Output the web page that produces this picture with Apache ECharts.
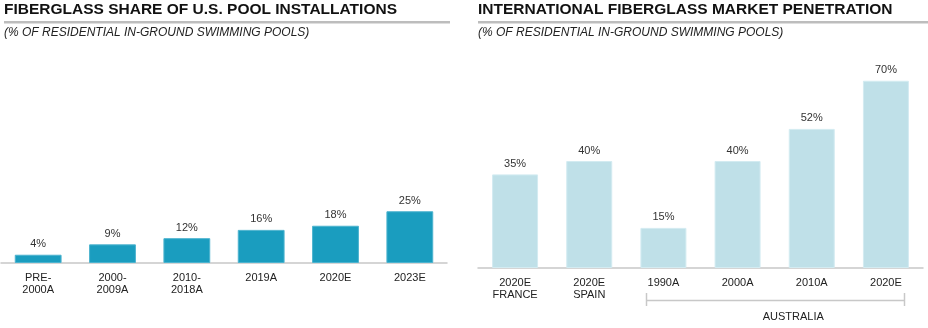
<!DOCTYPE html>
<html>
<head>
<meta charset="utf-8">
<script src="https://cdn.jsdelivr.net/npm/echarts@6/dist/echarts.min.js"></script>
<style>
  html, body { margin: 0; padding: 0; background: #fff; }
  #chart { width: 928px; height: 328px; }
</style>
</head>
<body>
<div id="chart"></div>
<script>
// U.S. fiberglass share by period
const usCategories = ['PRE-\n2000A', '2000-\n2009A', '2010-\n2018A', '2019A', '2020E', '2023E'];
const usShare = [4, 9, 12, 16, 18, 25];

// International fiberglass penetration
const intlCategories = ['2020E\nFRANCE', '2020E\nSPAIN', '1990A', '2000A', '2010A', '2020E'];
const intlShare = [35, 40, 15, 40, 52, 70];

// Australian bracket spans these categories
const bracketFrom = '1990A';
const bracketTo = '2020E';
const bracketLabel = 'AUSTRALIA';

const leftTitle = 'FIBERGLASS SHARE OF U.S. POOL INSTALLATIONS';
const rightTitle = 'INTERNATIONAL FIBERGLASS MARKET PENETRATION';
const subTitle = '(% OF RESIDENTIAL IN-GROUND SWIMMING POOLS)';

const FONT = '"Liberation Sans", Arial, Helvetica, sans-serif';

const chart = echarts.init(document.getElementById('chart'), null, { renderer: 'canvas' });

function header(x, rightEdge, text, titleSize, idp) {
  return [
    { type: 'text', id: idp + 'title', left: x, top: 1.5,
      style: { text: text, font: 'bold ' + titleSize + 'px ' + FONT, fill: '#111' } },
    { type: 'rect', id: idp + 'rule', shape: { x: x, y: 21, width: rightEdge - x, height: 2.5 },
      style: { fill: '#bdbdbd' } },
    { type: 'text', id: idp + 'sub', left: x, top: 27,
      style: { text: subTitle, font: 'italic 12px ' + FONT, fill: '#222' } }
  ];
}

const axisCommon = {
  type: 'category',
  axisTick: { show: false },
  axisLine: { lineStyle: { color: '#c8c8c8', width: 1.5 } },
  axisLabel: { color: '#222', fontSize: 11, fontFamily: FONT, lineHeight: 12, margin: 9, interval: 0 }
};

const valueLabel = {
  show: true, position: 'top', distance: 5,
  formatter: '{c}%', color: '#333', fontSize: 11, fontFamily: FONT
};

chart.setOption({
  animation: false,
  backgroundColor: '#fff',
  grid: [
    { left: 1, right: 481, top: 56, bottom: 65 },
    { left: 478, right: 5, top: 54, bottom: 60 }
  ],
  xAxis: [
    Object.assign({ gridIndex: 0, data: usCategories }, axisCommon),
    Object.assign({ gridIndex: 1, data: intlCategories }, axisCommon)
  ],
  yAxis: [
    { gridIndex: 0, type: 'value', min: 0, max: 100, show: false },
    { gridIndex: 1, type: 'value', min: 0, max: 80, show: false }
  ],
  series: [
    {
      type: 'bar', xAxisIndex: 0, yAxisIndex: 0, data: usShare,
      barCategoryGap: '37%',
      itemStyle: { color: '#1a9dbf', borderColor: '#4db3cf', borderWidth: 1 },
      label: valueLabel
    },
    {
      type: 'bar', xAxisIndex: 1, yAxisIndex: 1, data: intlShare,
      barCategoryGap: '38%',
      itemStyle: { color: '#bfe0e8', borderColor: '#d3ebf1', borderWidth: 1 },
      label: valueLabel
    }
  ],
  graphic: header(4, 450, leftTitle, 15.5, 'l').concat(header(478, 928, rightTitle, 15.5, 'r'))
});

// Bracket under the Australian categories, placed from the axis scale
const idxFrom = intlCategories.indexOf(bracketFrom);
const idxTo = intlCategories.lastIndexOf(bracketTo);
const xA = chart.convertToPixel({ xAxisIndex: 1 }, idxFrom);
const xB = chart.convertToPixel({ xAxisIndex: 1 }, idxTo);
const band = (xB - xA) / (idxTo - idxFrom);
const x0 = Math.round(xA - band * 0.24) + 0.5;
const x1 = Math.round(xB + band * 0.24) + 0.5;
const yLine = 300.5;
const bracketStyle = { stroke: '#c8c8c8', lineWidth: 1.5 };

chart.setOption({
  graphic: [
    { type: 'line', id: 'bh', shape: { x1: x0, y1: yLine, x2: x1, y2: yLine }, style: bracketStyle },
    { type: 'line', id: 'bl', shape: { x1: x0, y1: 293, x2: x0, y2: 306 }, style: bracketStyle },
    { type: 'line', id: 'br', shape: { x1: x1, y1: 293, x2: x1, y2: 306 }, style: bracketStyle },
    { type: 'text', id: 'bt', x: (x0 + x1) / 2 + band * 0.24, y: 317,
      style: { text: bracketLabel, font: '11px ' + FONT, fill: '#222', align: 'center', verticalAlign: 'middle' } }
  ]
});
</script>
</body>
</html>
